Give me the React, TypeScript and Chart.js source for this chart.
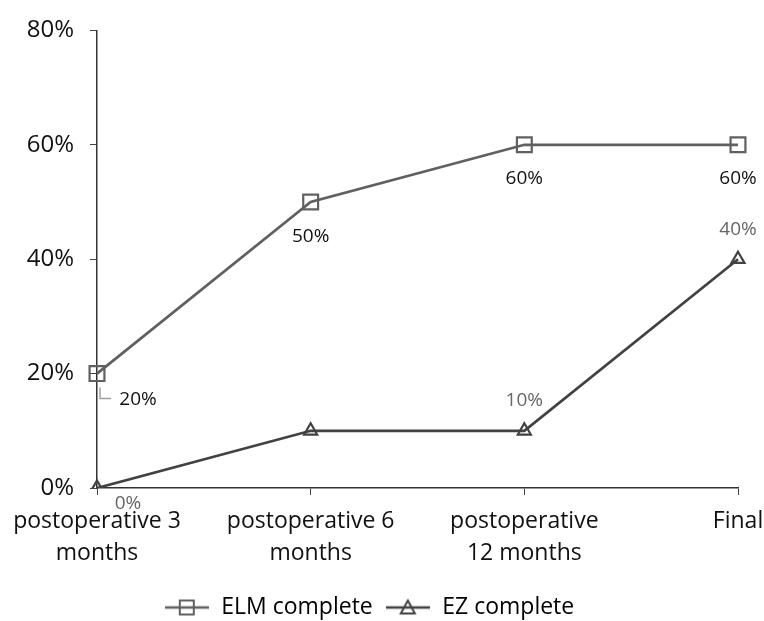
import React, { useEffect, useRef } from "react";
import { Chart, registerables } from "chart.js";

Chart.register(...registerables);

const categories: (string | string[])[] = [
  ["postoperative 3", "months"],
  ["postoperative 6", "months"],
  ["postoperative", "12 months"],
  "Final",
];
const elmValues = [20, 50, 60, 60];
const ezValues = [0, 10, 10, 40];
const elmLabels: (string | null)[] = ["20%", "50%", "60%", "60%"];
const ezLabels: (string | null)[] = ["0%", null, "10%", "40%"];
const yTicks = [0, 20, 40, 60, 80];

const FONT = "'Open Sans', sans-serif";
const ELM_COLOR = "#606060";
const EZ_COLOR = "#424242";

// label offsets relative to point (style, not data)
const elmOffsets = [
  [41, 26],
  [0, 35],
  [0, 34],
  [0, 34],
];
const ezOffsets = [
  [31, 16],
  [0, -30],
  [0, -30],
  [0, -30],
];

function legendIcon(kind: "square" | "triangle", color: string) {
  const c = document.createElement("canvas");
  c.width = 44;
  c.height = 20;
  const ctx = c.getContext("2d")!;
  ctx.strokeStyle = color;
  ctx.lineWidth = 2.5;
  ctx.beginPath();
  ctx.moveTo(0, 10);
  ctx.lineTo(44, 10);
  ctx.stroke();
  ctx.lineWidth = 2;
  if (kind === "square") {
    ctx.strokeRect(15, 3, 14, 14);
  } else {
    ctx.beginPath();
    ctx.moveTo(22, 3);
    ctx.lineTo(29, 16);
    ctx.lineTo(15, 16);
    ctx.closePath();
    ctx.stroke();
  }
  return c;
}

const dataLabelPlugin = {
  id: "dataLabels",
  afterDatasetsDraw(chart: any) {
    const ctx = chart.ctx;
    ctx.save();
    ctx.font = `19px ${FONT}`;
    ctx.textAlign = "center";
    ctx.textBaseline = "middle";
    const sets = [
      { labels: elmLabels, offsets: elmOffsets, color: "#111" },
      { labels: ezLabels, offsets: ezOffsets, color: "#666" },
    ];
    sets.forEach((s, di) => {
      const meta = chart.getDatasetMeta(di);
      meta.data.forEach((pt: any, i: number) => {
        const t = s.labels[i];
        if (!t) return;
        const x = pt.x + s.offsets[i][0];
        const y = pt.y + s.offsets[i][1];
        ctx.fillStyle = s.color;
        ctx.fillText(t, x, y);
        if (di === 0 && i === 0) {
          ctx.strokeStyle = "#a0a0a0";
          ctx.lineWidth = 1.5;
          ctx.beginPath();
          ctx.moveTo(pt.x + 3, pt.y + 14);
          ctx.lineTo(pt.x + 3, pt.y + 25);
          ctx.lineTo(pt.x + 14, pt.y + 25);
          ctx.stroke();
        }
      });
    });
    ctx.restore();
  },
};

export default function App() {
  const ref = useRef<HTMLCanvasElement>(null);
  useEffect(() => {
    document.body.style.margin = "0";
    const chart = new Chart(ref.current!, {
      type: "line",
      data: {
        labels: categories,
        datasets: [
          {
            label: "ELM complete",
            data: elmValues,
            borderColor: ELM_COLOR,
            borderWidth: 2.7,
            pointStyle: "rect",
            pointRadius: 10.5,
            pointBorderWidth: 2.2,
            pointBackgroundColor: "rgba(0,0,0,0)",
            pointBorderColor: ELM_COLOR,
            tension: 0,
          },
          {
            label: "EZ complete",
            data: ezValues,
            borderColor: EZ_COLOR,
            borderWidth: 2.7,
            pointStyle: "triangle",
            pointRadius: 7.5,
            pointBorderWidth: 2.2,
            pointBackgroundColor: "rgba(0,0,0,0)",
            pointBorderColor: EZ_COLOR,
            tension: 0,
          },
        ],
      },
      options: {
        animation: false,
        responsive: false,
        layout: { padding: { top: 28, right: 26, left: 0, bottom: -8 } },
        plugins: {
          tooltip: { enabled: false },
          legend: {
            position: "bottom",
            labels: {
              usePointStyle: true,
              pointStyleWidth: 46,
              color: "#111",
              font: { family: FONT, size: 23 },
              padding: 12,
              generateLabels: () => [
                {
                  text: "ELM complete",
                  pointStyle: legendIcon("square", ELM_COLOR),
                  fillStyle: "#fff",
                  strokeStyle: ELM_COLOR,
                  lineWidth: 0,
                  hidden: false,
                  datasetIndex: 0,
                },
                {
                  text: "EZ complete",
                  pointStyle: legendIcon("triangle", EZ_COLOR),
                  fillStyle: "#fff",
                  strokeStyle: EZ_COLOR,
                  lineWidth: 0,
                  hidden: false,
                  datasetIndex: 1,
                },
              ] as any,
            },
          },
        },
        scales: {
          x: {
            offset: false,
            grid: {
              offset: false,
              drawOnChartArea: false,
              drawTicks: true,
              tickLength: 7,
              tickColor: "#444",
            },
            border: { color: "#333", width: 1.5 },
            afterFit: (axis: any) => {
              axis.height = 96;
              axis.paddingLeft = 0;
              axis.paddingRight = 0;
            },
            ticks: {
              color: "#111",
              font: { family: FONT, size: 23, lineHeight: 1.4 },
              maxRotation: 0,
              autoSkip: false,
              padding: 10,
            },
          },
          y: {
            min: 0,
            max: 80,
            afterBuildTicks: (axis: any) => {
              axis.ticks = yTicks.map((v) => ({ value: v }));
            },
            afterFit: (axis: any) => {
              axis.width = 97;
            },
            grid: {
              drawOnChartArea: false,
              drawTicks: true,
              tickLength: 7,
              tickColor: "#444",
            },
            border: { color: "#333", width: 1.5 },
            ticks: {
              color: "#111",
              font: { family: FONT, size: 24 },
              padding: 16,
              callback: (v: any) => v + "%",
            },
          },
        },
      },
      plugins: [dataLabelPlugin],
    });
    return () => chart.destroy();
  }, []);
  return (
    <div style={{ width: 764, height: 621, background: "#fff" }}>
      <canvas ref={ref} width={764} height={621} />
    </div>
  );
}
